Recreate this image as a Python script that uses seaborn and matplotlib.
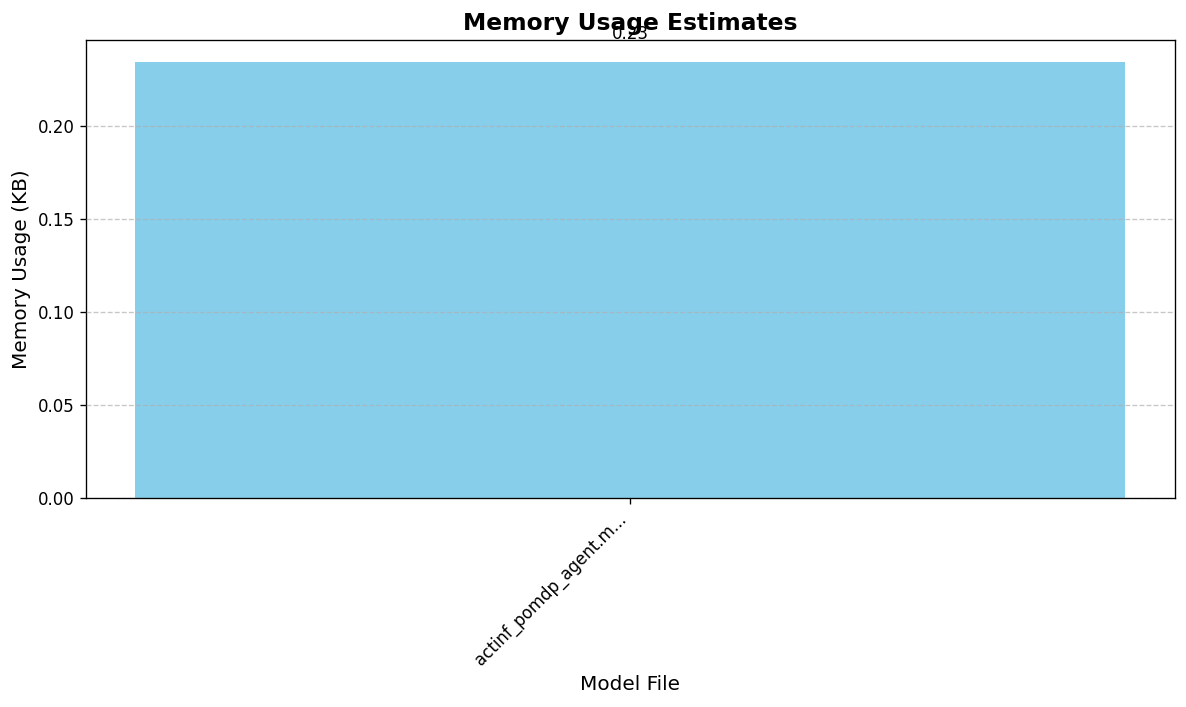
import matplotlib
matplotlib.use("Agg")
import matplotlib.pyplot as plt
import seaborn as sns
import pandas as pd

model_files = ["actinf_pomdp_agent.m..."]
memory_kb = [0.2344]
value_labels = ["0.23"]

df = pd.DataFrame({"Model File": model_files, "Memory Usage (KB)": memory_kb})

fig = plt.figure(figsize=(1186 / 120, 707 / 120), dpi=120)
ax = fig.add_axes([0.0725, 0.2956, 0.9907 - 0.0725, 0.9434 - 0.2956])
sns.barplot(data=df, x="Model File", y="Memory Usage (KB)", color="skyblue",
            saturation=1, width=0.8, ax=ax)
ax.set_xlim(-0.44, 0.44)
ax.set_ylim(0, max(memory_kb) * 1.05)
ax.set_axisbelow(False)
ax.grid(axis="y", linestyle="--", alpha=0.7)
ax.set_title("Memory Usage Estimates", fontsize=14, fontweight="bold")
ax.set_xlabel("Model File", fontsize=12)
ax.set_ylabel("Memory Usage (KB)", fontsize=12)
plt.setp(ax.get_xticklabels(), rotation=45, ha="right")
for i, (v, lab) in enumerate(zip(memory_kb, value_labels)):
    ax.text(i, v + 0.01, lab, ha="center", va="bottom", fontsize=10)
fig.savefig("out.png", dpi=120)
